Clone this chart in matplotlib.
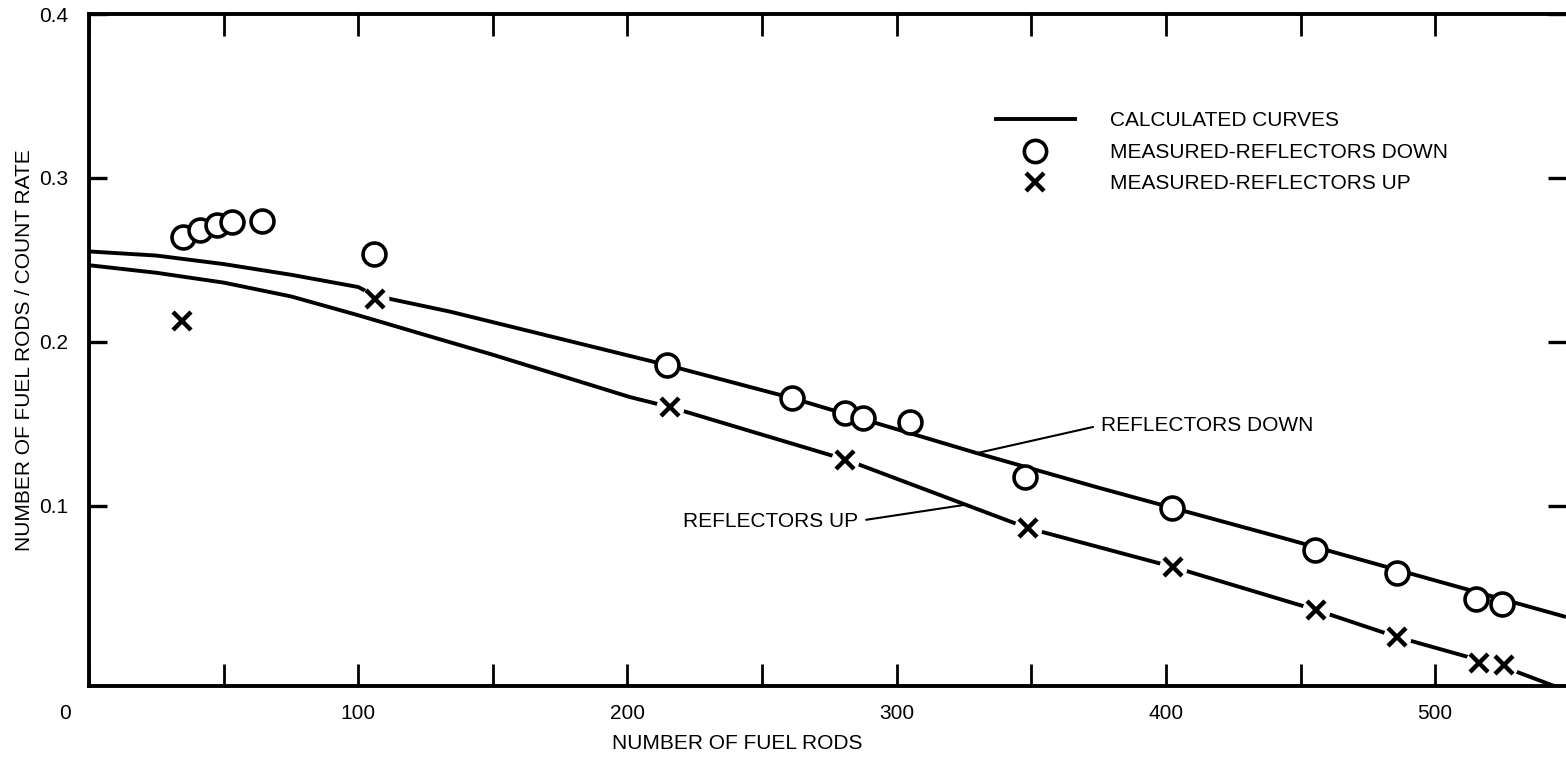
import numpy as np
import matplotlib
matplotlib.use("Agg")
import matplotlib.pyplot as plt
from matplotlib.lines import Line2D

plt.rcParams['font.family'] = ['Liberation Sans', 'DejaVu Sans']

# calculated curves
calc_down_x = [0, 25, 50, 75, 100, 106.2, 134.1, 170, 214.7, 261.1, 304.9, 329.8, 375.5, 442.3, 548.6]
calc_down_y = [0.2552, 0.2527, 0.2475, 0.2410, 0.2335, 0.2282, 0.2185, 0.2040, 0.1859, 0.1658, 0.1444, 0.1322, 0.1109, 0.0810, 0.0323]
calc_up_x = [0, 25, 50, 75, 100, 125, 150, 200.9, 215.8, 281.5, 348.7, 402.6, 455.7, 485.8, 525.5, 545.2]
calc_up_y = [0.2468, 0.2422, 0.2362, 0.2278, 0.2163, 0.2042, 0.1922, 0.1664, 0.1603, 0.1280, 0.0865, 0.0628, 0.0366, 0.0201, 0.0018, -0.0104]

# measured points
meas_down_x = [34.9, 41.2, 47.5, 53.1, 64.3, 105.8, 214.7, 261.1, 280.8, 287.5, 304.9, 347.6, 402.2, 455.3, 485.8, 515.1, 524.8]
meas_down_y = [0.2639, 0.2681, 0.2712, 0.2730, 0.2735, 0.2535, 0.1859, 0.1658, 0.1566, 0.1536, 0.1511, 0.1176, 0.0987, 0.0731, 0.0591, 0.0433, 0.0402]
meas_up_x = [34.5, 106.2, 215.8, 280.8, 348.7, 402.6, 455.7, 485.8, 516.2, 525.5]
meas_up_y = [0.2127, 0.2261, 0.1603, 0.1280, 0.0865, 0.0628, 0.0366, 0.0201, 0.0043, 0.0030]

xticks_major = [0, 100, 200, 300, 400, 500]
xticks_minor = [50, 150, 250, 350, 450]
yticks = [0.1, 0.2, 0.3, 0.4]

FS = 15
LW = 2.8

fig = plt.figure(figsize=(15.66, 7.58), dpi=100)
ax = fig.add_axes([89 / 1566, 72 / 758, 1 - 89 / 1566, 672 / 758])

ax.plot(calc_down_x, calc_down_y, color='black', lw=LW, zorder=2, solid_capstyle='butt')
ax.plot(calc_up_x, calc_up_y, color='black', lw=LW, zorder=2, solid_capstyle='butt')

# white halo under crosses to break the line like the original
ax.plot(meas_up_x, meas_up_y, 'o', ms=19, color='white', zorder=3)
ax.plot(meas_up_x, meas_up_y, 'x', ms=13, mew=3.2, color='black', zorder=4)
ax.plot(meas_down_x, meas_down_y, 'o', ms=16.5, mfc='white', mec='black', mew=2.6, zorder=4)

ax.set_xlim(0, 548.6)
ax.set_ylim(-0.0098, 0.4)

ax.set_xticks(xticks_major)
ax.set_xticklabels([''] + [str(v) for v in xticks_major[1:]])
ax.set_xticks(xticks_minor, minor=True)
ax.set_yticks(yticks)
ax.set_yticklabels([f'{v:.1f}' for v in yticks])

ax.tick_params(axis='x', which='both', direction='in', length=16, width=2.0,
               top=True, bottom=True, labelsize=FS, pad=13)
ax.tick_params(axis='y', which='both', direction='in', length=13, width=2.4,
               left=True, right=True, labelsize=FS, pad=15)

ax.annotate('0', xy=(0, 0), xycoords=('data', 'axes fraction'),
            xytext=(-17, -20), textcoords='offset points',
            ha='center', va='center', fontsize=FS)

for side in ['left', 'bottom', 'top']:
    ax.spines[side].set_linewidth(LW)
ax.spines['right'].set_visible(False)

ax.set_xlabel('NUMBER OF FUEL RODS', fontsize=FS)
ax.xaxis.set_label_coords(0.439, -0.072)
ax.set_ylabel('NUMBER OF FUEL RODS / COUNT RATE', fontsize=FS)
ax.yaxis.set_label_coords(-0.037, 0.5)

# curve labels with leader lines
ax.annotate('REFLECTORS DOWN', xy=(329.8, 0.1322), xytext=(376, 0.1493),
            ha='left', va='center', fontsize=FS,
            arrowprops=dict(arrowstyle='-', lw=1.5, color='black',
                            shrinkA=4, shrinkB=0, relpos=(0, 0.5)))
ax.annotate('REFLECTORS UP', xy=(324.6, 0.1005), xytext=(285.6, 0.0908),
            ha='right', va='center', fontsize=FS,
            arrowprops=dict(arrowstyle='-', lw=1.5, color='black',
                            shrinkA=4, shrinkB=0, relpos=(1, 0.5)))

handles = [
    Line2D([], [], color='black', lw=LW),
    Line2D([], [], ls='none', marker='o', ms=16, mfc='white', mec='black', mew=2.6),
    Line2D([], [], ls='none', marker='x', ms=13, mew=3.2, color='black'),
]
labels = ['CALCULATED CURVES', 'MEASURED-REFLECTORS DOWN', 'MEASURED-REFLECTORS UP']
ax.legend(handles, labels, loc='upper left', bbox_to_anchor=(0.614, 0.855),
          frameon=False, fontsize=FS, handlelength=3.8, handletextpad=1.7,
          borderpad=0, borderaxespad=0, labelspacing=0.6)

fig.savefig('out.png', dpi=100)
